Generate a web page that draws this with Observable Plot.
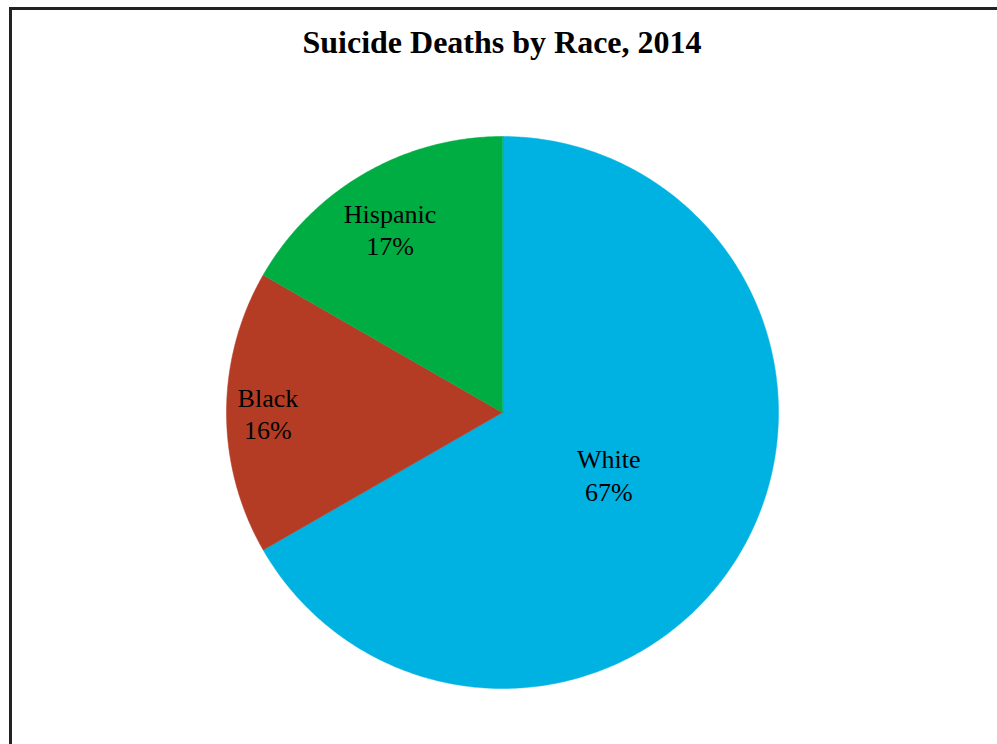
<!DOCTYPE html>
<html>
<head>
<meta charset="utf-8">
<script src="https://cdn.jsdelivr.net/npm/d3@7"></script>
<script src="https://cdn.jsdelivr.net/npm/@observablehq/plot@0.6"></script>
<style>
  html, body { margin: 0; padding: 0; background: #fff; overflow: hidden; width: 997px; height: 744px; }
  #frame { position: absolute; left: 9px; top: 7px; width: 1200px; height: 1000px; border: 3px solid #222; box-sizing: border-box; }
  #title { position: absolute; top: 22px; left: 0; width: 1004px; text-align: center; line-height: 40px;
           font-family: "Liberation Serif", "Times New Roman", serif; font-weight: bold; font-size: 32px; color: #000; }
  #chart { position: absolute; left: 0; top: 0; }
  #chart svg, #chart svg text { font-family: "Liberation Serif", "Times New Roman", serif !important; }
</style>
</head>
<body>
<div id="frame"></div>
<div id="title">Suicide Deaths by Race, 2014</div>
<div id="chart"></div>
<script>
const categories = ["White", "Black", "Hispanic"];
const shares = [66.7, 16.6, 16.7];
const shareLabels = ["67%", "16%", "17%"];

const colors = ["#00B2E2", "#B43C24", "#00AD42"];
const labelRadius = {White: 0.445, Black: 0.85, Hispanic: 0.77};
const labelShift = {White: 0, Black: 0, Hispanic: -6};

const data = categories.map((c, i) => ({name: c, value: shares[i], label: c + "\n" + shareLabels[i]}));
const arcs = d3.pie().value(d => d.value).sort(null)(data);

// slice outlines in unit-circle coordinates (angle clockwise from 12 o'clock)
const pts = [];
for (const a of arcs) {
  const n = Math.max(2, Math.ceil((a.endAngle - a.startAngle) / (Math.PI / 360)));
  pts.push({name: a.data.name, x: 0, y: 0});
  for (let k = 0; k <= n; k++) {
    const t = a.startAngle + (a.endAngle - a.startAngle) * k / n;
    pts.push({name: a.data.name, x: Math.sin(t), y: Math.cos(t)});
  }
}
const labelPts = arcs.map(a => {
  const m = (a.startAngle + a.endAngle) / 2, r = labelRadius[a.data.name];
  return {name: a.data.name, label: a.data.label, x: r * Math.sin(m), y: r * Math.cos(m)};
});

const plot = Plot.plot({
  width: 997,
  height: 744,
  margin: 0,
  x: {domain: [-1, 1], range: [226, 778], axis: null},
  y: {domain: [-1, 1], range: [688, 136], axis: null},
  color: {domain: categories, range: colors},
  style: {background: "transparent"},
  marks: [
    Plot.line(pts, {x: "x", y: "y", z: "name", fill: "name", stroke: "name", strokeWidth: 0.5, curve: "linear-closed"}),
    ...labelPts.map(p => Plot.text([p], {x: "x", y: "y", text: "label", fontSize: 26, lineHeight: 1.25, fill: "#000",
      dx: labelShift[p.name], fontFamily: "Liberation Serif"}))
  ]
});
document.getElementById("chart").appendChild(plot);
</script>
</body>
</html>
